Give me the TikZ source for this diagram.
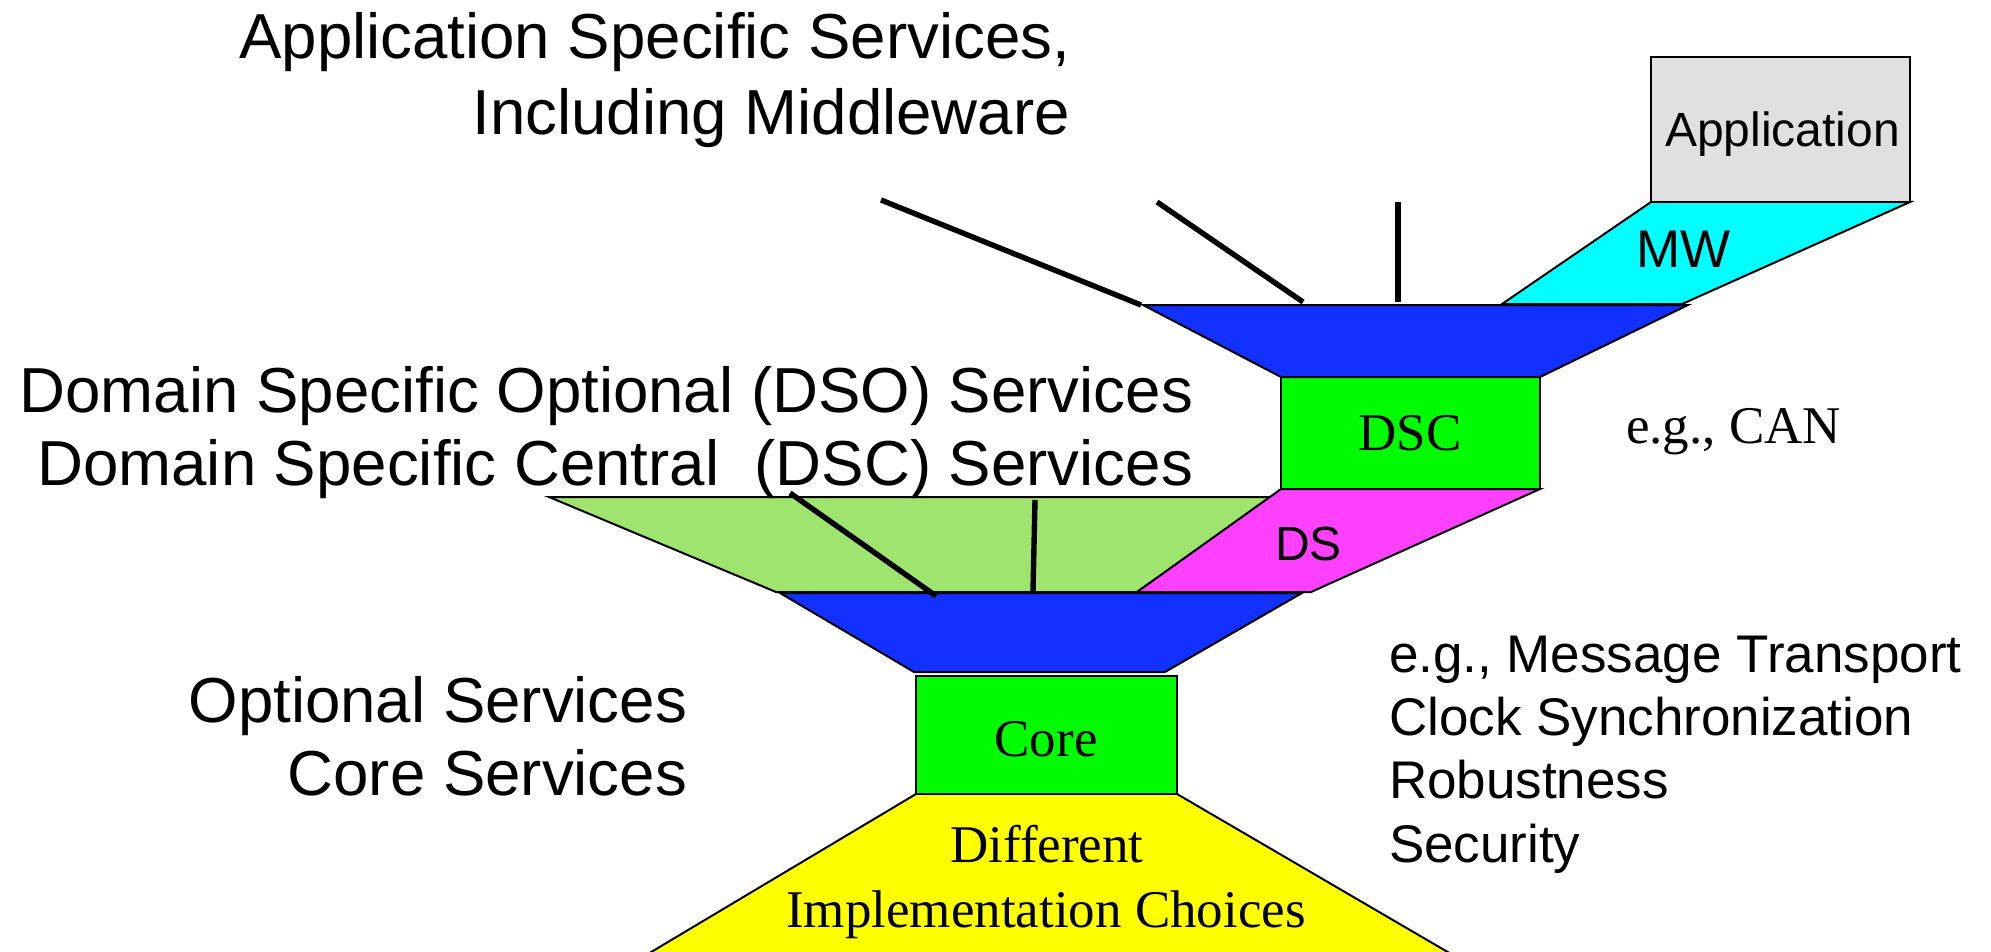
\documentclass[tikz,border=0pt]{standalone}
\usepackage{fontspec}
\setmainfont{Liberation Serif}
\newfontfamily\arialfont{Liberation Sans}
\definecolor{appgray}{RGB}{224,224,224}
\definecolor{mwcyan}{RGB}{0,255,255}
\definecolor{layerblue}{RGB}{18,48,255}
\definecolor{boxgreen}{RGB}{0,252,0}
\definecolor{optgreen}{RGB}{160,228,112}
\definecolor{dspink}{RGB}{255,64,255}
\definecolor{baseyellow}{RGB}{255,255,0}
\tikzset{
  layer/.style={draw=black, line width=1pt, line join=miter},
  stick/.style={draw=black, line width=2.7pt},
  bigsans/.style={font=\arialfont\fontsize{31.8pt}{36pt}\selectfont, inner sep=0pt, outer sep=0pt},
  sidesans/.style={font=\arialfont\fontsize{26.5pt}{30pt}\selectfont, inner sep=0pt, outer sep=0pt},
  insans/.style={font=\arialfont\fontsize{24pt}{28pt}\selectfont, inner sep=0pt, outer sep=0pt},
  inserif/.style={font=\fontsize{26.5pt}{30pt}\selectfont, inner sep=0pt, outer sep=0pt}
}
\begin{document}
\begin{tikzpicture}[x=0.5pt,y=-0.5pt]
\useasboundingbox (0,0) rectangle (1991,952);
\begin{scope}
\clip (0,0) rectangle (1991,952);

% base of the hourglass: implementation choices
\fill[baseyellow] (916,794) -- (1177,794) -- (1547,1010) -- (554,1010) -- cycle;
\draw[black, line width=1pt] (554,1010) -- (916,794) (1177,794) -- (1547,1010);

% core box
\draw[layer, fill=boxgreen] (916,676) rectangle (1177,794);

% lower blue funnel
\draw[layer, fill=layerblue] (780,593) -- (1302,593) -- (1165,672) -- (914,672) -- cycle;

% optional services (light green) and domain specific (pink)
\draw[layer, fill=optgreen] (549,497) -- (1272,497) -- (1137,592) -- (776,592) -- cycle;
\draw[layer, fill=dspink] (1281,489) -- (1540,489) -- (1311,592) -- (1137,592) -- cycle;

% DSC box
\draw[layer, fill=boxgreen] (1281,377) rectangle (1540,489);

% upper blue funnel
\draw[layer, fill=layerblue] (1143,305) -- (1688,305) -- (1540,377) -- (1281,377) -- cycle;

% middleware and application
\draw[layer, fill=mwcyan] (1651,202) -- (1910,202) -- (1682,304) -- (1502,304) -- cycle;
\draw[layer, fill=appgray] (1651,57) rectangle (1910,202);
\end{scope}

% sticks marking the service layers
\coordinate (s1a) at (881,200);  \coordinate (s1b) at (1141,305);
\coordinate (s2a) at (1157,202); \coordinate (s2b) at (1303,302);
\coordinate (s3a) at (1398,202); \coordinate (s3b) at (1398,302);
\coordinate (s4a) at (790,493);  \coordinate (s4b) at (936,596);
\coordinate (s5a) at (1035,500); \coordinate (s5b) at (1033,591);
\draw[stick] (s1a) -- (s1b);
\draw[stick] (s2a) -- (s2b);
\draw[stick] (s3a) -- (s3b);
\draw[stick] (s4a) -- (s4b);
\draw[stick] (s5a) -- (s5b);

% labels inside the shapes
\node[insans, anchor=base west] (app) at (1665,147) {Application};
\node[sidesans, anchor=base west] (mw) at (1636,268) {MW};
\node[inserif, anchor=base] (dsc) at (1410,450) {DSC};
\node[insans, anchor=base west] (ds) at (1275,560) {DS};
\node[inserif, anchor=base] (core) at (1046,756) {Core};
\node[inserif, anchor=base] (diff) at (1047,862) {Different};
\node[inserif, anchor=base] (impl) at (1046,927) {Implementation Choices};

% left-hand captions
\node[bigsans, anchor=base east] (ass1) at (1070,59) {Application Specific Services,};
\node[bigsans, anchor=base east] (ass2) at (1070,135) {Including Middleware};
\node[bigsans, anchor=base east] (dso) at (1193,412) {Domain Specific Optional (DSO) Services};
\node[bigsans, anchor=base east] (dscl) at (1193,485) {Domain Specific Central\ \ (DSC) Services};
\node[bigsans, anchor=base east] (opt) at (687,722) {Optional Services};
\node[bigsans, anchor=base east] (cor) at (687,795) {Core Services};

% right-hand examples
\node[inserif, anchor=base west] (can) at (1626,443) {e.g., CAN};
\node[sidesans, anchor=base west] (ex1) at (1389,672) {e.g., Message Transport};
\node[sidesans, anchor=base west] (ex2) at (1389,735) {Clock Synchronization};
\node[sidesans, anchor=base west] (ex3) at (1389,798) {Robustness};
\node[sidesans, anchor=base west] (ex4) at (1389,862) {Security};
\end{tikzpicture}
\end{document}
